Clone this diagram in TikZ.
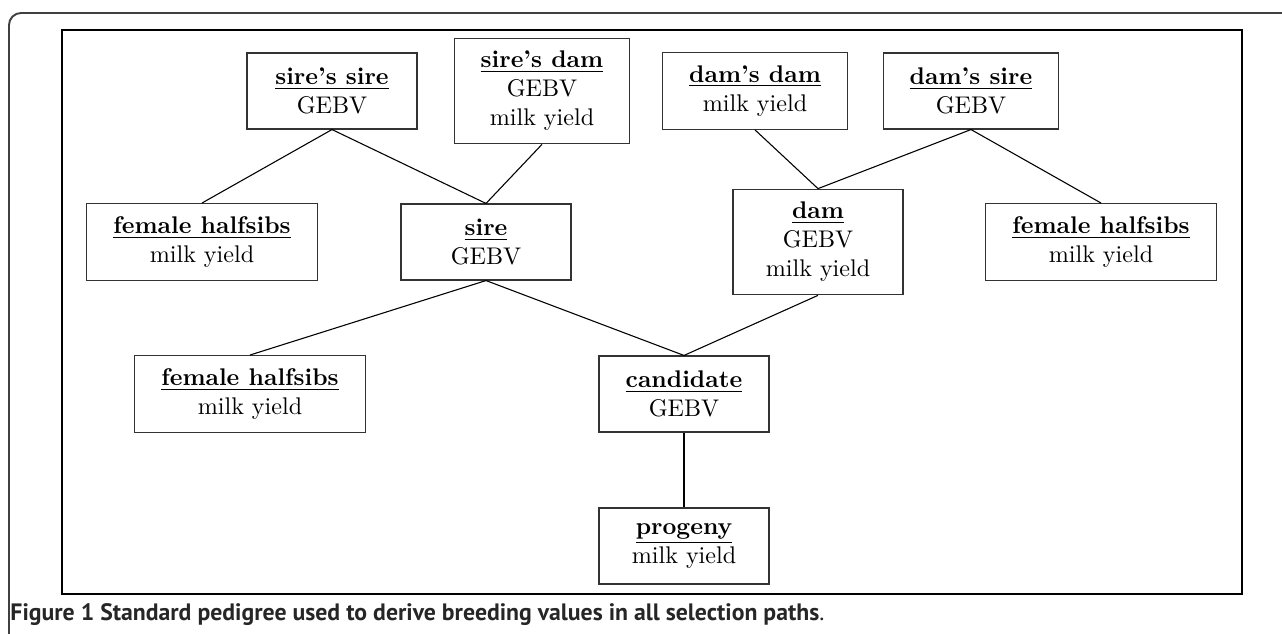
\documentclass[tikz,border=0pt]{standalone}
\usepackage{fontspec}
\newfontfamily\capfont{PT Sans}
\usetikzlibrary{positioning}
\tikzstyle{member}=[draw=black!80,line width=0.5pt,align=center,minimum width=70.5pt,minimum height=31.5pt,inner xsep=11pt,inner ysep=5.4pt]
\tikzstyle{link} = [draw,line width=0.45pt]
\tikzstyle{caption} = [anchor=base west,inner sep=0pt,text=black!85,font=\capfont\fontsize{9.85}{11}\selectfont]
\newcommand{\role}[1]{\underline{\textbf{#1}}}

\begin{document}
\begin{tikzpicture}[x=0.415pt,y=-0.415pt]

  \useasboundingbox (0,0) rectangle (1282,634);

  % frames
  \draw[black!75,line width=0.8pt,rounded corners=5pt] (9,634) |- (1282,13);
  \draw[line width=0.6pt] (62,30) rectangle (1242,594);

  \foreach \x/\y/\name/\who/\what in {
      332/91/sss/{sire's sire}/{GEBV},
      542/91/ssd/{sire's dam}/{GEBV\\milk yield},
      755/91/dd/{dam's dam}/{milk yield},
      971/91/ds/{dam's sire}/{GEBV},
      202/242/fh1/{female halfsibs}/{milk yield},
      486/242/sire/{sire}/{GEBV},
      818/242/dam/{dam}/{GEBV\\milk yield},
      1101/242/fh2/{female halfsibs}/{milk yield},
      250/394/fh3/{female halfsibs}/{milk yield},
      684/394/cand/{candidate}/{GEBV},
      684/546/prog/{progeny}/{milk yield}}
    \node[member] (\name) at (\x,\y) {\role{\who}\\\what};

  \foreach \source/\dest in {sss/fh1, sss/sire, ssd/sire, dd/dam, ds/dam, ds/fh2,
                             sire/fh3, sire/cand, dam/cand, cand/prog}
    \path[link] (\source.south) -- (\dest.north);

  \node[caption] (cap) at (10,620)
    {\textbf{Figure 1 Standard pedigree used to derive breeding values in all selection paths}.};

\end{tikzpicture}
\end{document}
